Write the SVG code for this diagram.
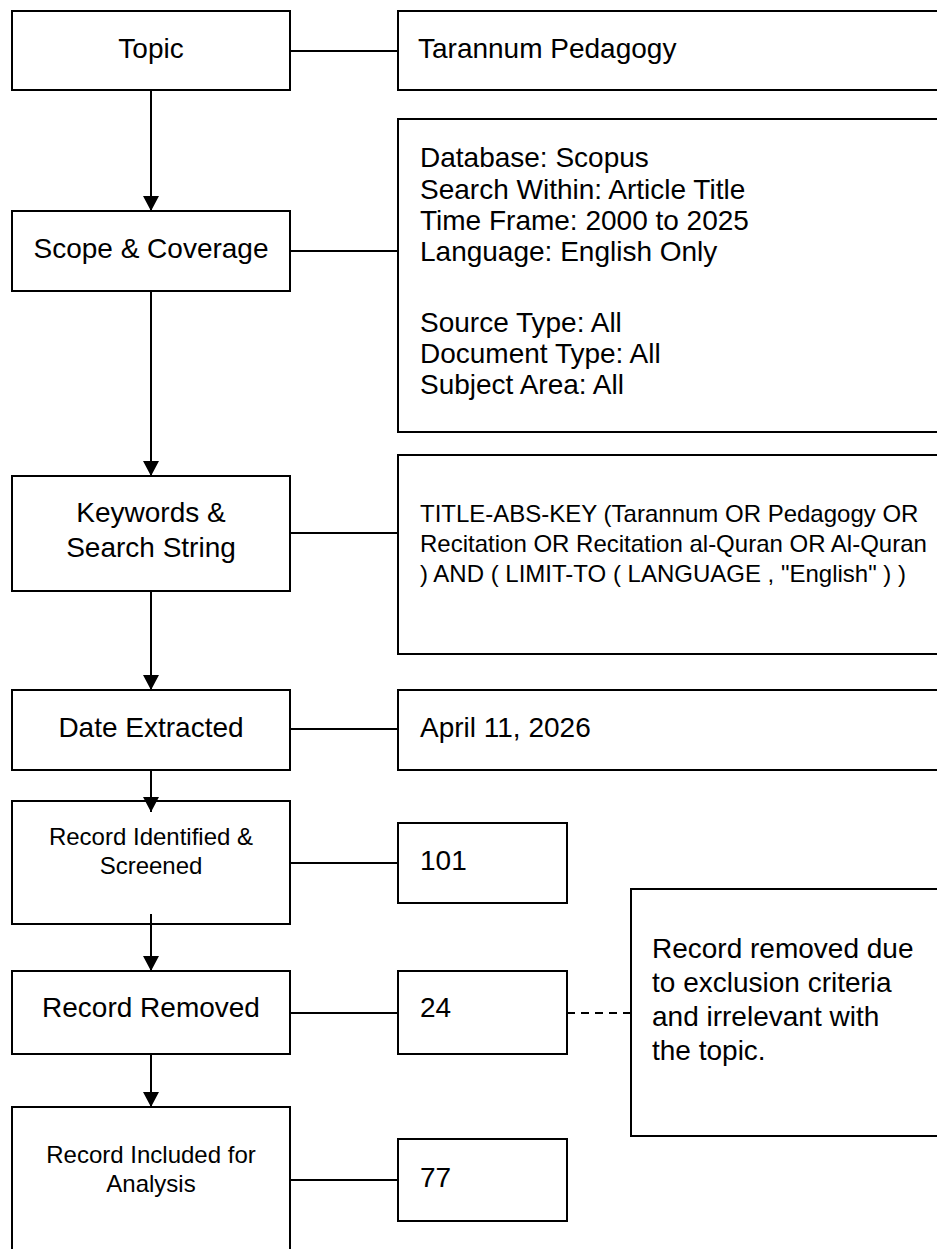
<svg xmlns="http://www.w3.org/2000/svg" width="937" height="1249" viewBox="0 0 937 1249">
  <style>
    .box { fill: #ffffff; stroke: #000000; stroke-width: 2; }
    .lbl { font-family: "Liberation Sans", Arial, sans-serif; font-size: 28px; fill: #000000; }
    .sm { font-size: 24px; }
    .mid { text-anchor: middle; }
    .conn { stroke: #000000; stroke-width: 2; fill: none; }
    .dash { stroke-dasharray: 8 6; }
  </style>
  <defs>
    <marker id="arrow" markerUnits="userSpaceOnUse" markerWidth="16" markerHeight="16" refX="15" refY="8" orient="auto">
      <path d="M0,0 L15,8 L0,16 Z" fill="#000000"/>
    </marker>
  </defs>
  <rect x="0" y="0" width="937" height="1249" fill="#ffffff"/>

  <g id="topic">
    <rect class="box" x="12" y="11" width="278" height="79"/>
    <text class="lbl mid" x="151" y="58">Topic</text>
  </g>
  <g id="topic-detail">
    <rect class="box" x="398" y="11" width="560" height="79"/>
    <text class="lbl" x="418" y="58">Tarannum Pedagogy</text>
  </g>

  <g id="scope">
    <rect class="box" x="12" y="211" width="278" height="80"/>
    <text class="lbl mid" x="151" y="258">Scope &amp; Coverage</text>
  </g>
  <g id="scope-detail">
    <rect class="box" x="398" y="119" width="560" height="313"/>
    <text class="lbl" x="420" y="167">Database: Scopus</text>
    <text class="lbl" x="420" y="199">Search Within: Article Title</text>
    <text class="lbl" x="420" y="230">Time Frame: 2000 to 2025</text>
    <text class="lbl" x="420" y="261">Language: English Only</text>
    <text class="lbl" x="420" y="332">Source Type: All</text>
    <text class="lbl" x="420" y="363">Document Type: All</text>
    <text class="lbl" x="420" y="394">Subject Area: All</text>
  </g>

  <g id="keywords">
    <rect class="box" x="12" y="476" width="278" height="115"/>
    <text class="lbl mid" x="151" y="522">Keywords &amp;</text>
    <text class="lbl mid" x="151" y="557">Search String</text>
  </g>
  <g id="keywords-detail">
    <rect class="box" x="398" y="455" width="560" height="199"/>
    <text class="lbl sm" x="420" y="522">TITLE-ABS-KEY (Tarannum OR Pedagogy OR</text>
    <text class="lbl sm" x="420" y="552">Recitation OR Recitation al-Quran OR Al-Quran</text>
    <text class="lbl sm" x="420" y="582">) AND ( LIMIT-TO ( LANGUAGE , "English" ) )</text>
  </g>

  <g id="date">
    <rect class="box" x="12" y="690" width="278" height="80"/>
    <text class="lbl mid" x="151" y="737">Date Extracted</text>
  </g>
  <g id="date-detail">
    <rect class="box" x="398" y="690" width="560" height="80"/>
    <text class="lbl" x="420" y="737">April 11, 2026</text>
  </g>

  <g id="identified">
    <rect class="box" x="12" y="801" width="278" height="123"/>
    <text class="lbl sm mid" x="151" y="845">Record Identified &amp;</text>
    <text class="lbl sm mid" x="151" y="874">Screened</text>
  </g>
  <g id="identified-count">
    <rect class="box" x="398" y="823" width="169" height="80"/>
    <text class="lbl" x="420" y="870">101</text>
  </g>

  <g id="removed">
    <rect class="box" x="12" y="971" width="278" height="83"/>
    <text class="lbl mid" x="151" y="1017">Record Removed</text>
  </g>
  <g id="removed-count">
    <rect class="box" x="398" y="971" width="169" height="83"/>
    <text class="lbl" x="420" y="1017">24</text>
  </g>
  <g id="removed-note">
    <rect class="box" x="631" y="889" width="330" height="247"/>
    <text class="lbl" x="652" y="958">Record removed due</text>
    <text class="lbl" x="652" y="992">to exclusion criteria</text>
    <text class="lbl" x="652" y="1026">and irrelevant with</text>
    <text class="lbl" x="652" y="1060">the topic.</text>
  </g>

  <g id="included">
    <rect class="box" x="12" y="1107" width="278" height="170"/>
    <text class="lbl sm mid" x="151" y="1163">Record Included for</text>
    <text class="lbl sm mid" x="151" y="1192">Analysis</text>
  </g>
  <g id="included-count">
    <rect class="box" x="398" y="1139" width="169" height="82"/>
    <text class="lbl" x="420" y="1187">77</text>
  </g>

  <g id="connectors">
    <line class="conn" x1="151" y1="90" x2="151" y2="211" marker-end="url(#arrow)"/>
    <line class="conn" x1="151" y1="291" x2="151" y2="476" marker-end="url(#arrow)"/>
    <line class="conn" x1="151" y1="591" x2="151" y2="690" marker-end="url(#arrow)"/>
    <line class="conn" x1="151" y1="770" x2="151" y2="812" marker-end="url(#arrow)"/>
    <line class="conn" x1="151" y1="914" x2="151" y2="971" marker-end="url(#arrow)"/>
    <line class="conn" x1="151" y1="1054" x2="151" y2="1107" marker-end="url(#arrow)"/>
    <line class="conn" x1="290" y1="51" x2="398" y2="51"/>
    <line class="conn" x1="290" y1="251" x2="398" y2="251"/>
    <line class="conn" x1="290" y1="533" x2="398" y2="533"/>
    <line class="conn" x1="290" y1="729" x2="398" y2="729"/>
    <line class="conn" x1="290" y1="863" x2="398" y2="863"/>
    <line class="conn" x1="290" y1="1013" x2="398" y2="1013"/>
    <line class="conn" x1="290" y1="1180" x2="398" y2="1180"/>
    <line class="conn dash" x1="567" y1="1013" x2="631" y2="1013"/>
  </g>
</svg>
